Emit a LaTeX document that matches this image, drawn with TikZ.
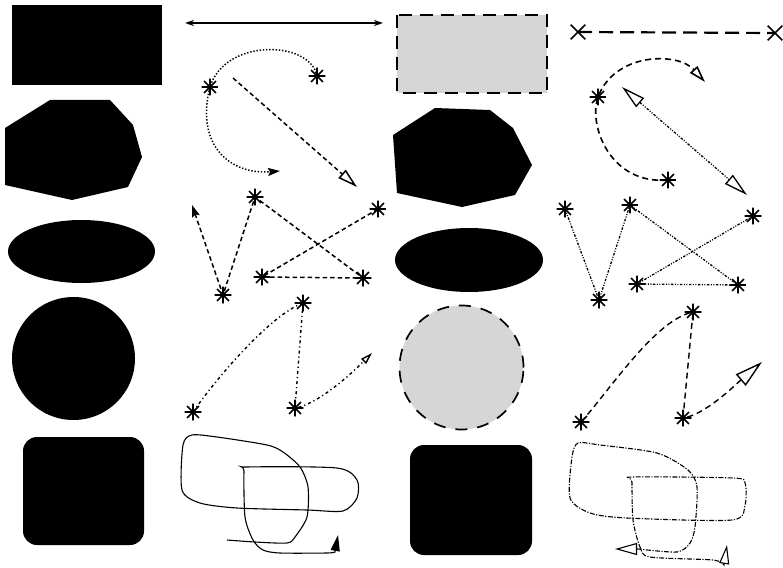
\documentclass[tikz,border=0pt]{standalone}
\usetikzlibrary{arrows.meta, shapes.misc}
\tikzset{
  % Polymarker: eight-armed asterisk with a heavy centre.
  mk-star/.style={
    circle, inner sep=0pt, minimum size=17pt,
    path picture={
      \draw[line width=1.6pt]
        (path picture bounding box.north) -- (path picture bounding box.south)
        (path picture bounding box.west) -- (path picture bounding box.east)
        (path picture bounding box.north west) -- (path picture bounding box.south east)
        (path picture bounding box.north east) -- (path picture bounding box.south west);
      \fill (path picture bounding box.center) circle (2.8pt);
    },
  },
  % Polymarker: diagonal cross.
  mk-cross/.style={
    cross out, draw, line width=1.6pt,
    minimum size=13pt, inner sep=0pt,
  },
  % Fill areas.
  area-solid/.style={fill=black},
  area-stipple/.style={
    fill=black!16, draw=black, line width=2pt,
    dash pattern=on 13pt off 8pt,
  },
  % Line types.
  ln-solid/.style={line width=1.1pt},
  ln-dot/.style={line width=1.5pt, dash pattern=on 1.4pt off 1.8pt},
  ln-dash/.style={line width=1.5pt, dash pattern=on 4.5pt off 3pt},
  ln-dashdot/.style={line width=1.4pt, dash pattern=on 3pt off 3pt on 1.2pt off 3pt},
  ln-dashdotdot/.style={line width=1.3pt,
    dash pattern=on 2.5pt off 1.5pt on 1pt off 1.5pt on 1pt off 1.5pt},
  ln-fine/.style={line width=1.1pt, dash pattern=on 5pt off 1.5pt on 1.2pt off 1.5pt},
  ln-meddash/.style={line width=1.6pt, dash pattern=on 6pt off 4pt},
  ln-longdash/.style={line width=2.2pt, dash pattern=on 14pt off 7pt},
  % Arrow heads.
  tip-solid/.style={-{Stealth[length=12pt, width=8pt, inset=2pt]}},
  tip-open/.style={-{Triangle[open, length=20pt, width=11pt]}},
  tip-open-s/.style={-{Triangle[open, length=12pt, width=7pt]}},
}

\begin{document}
\begin{tikzpicture}[x=1pt, y=-1pt]
  \useasboundingbox (0,0) rectangle (783,567);

  % Column 1: solid fill areas.
  \fill[area-solid] (12,5) rectangle (162,85);
  \fill[area-solid] (5,128) -- (50,100) -- (110,100) -- (133,125) -- (142,157)
    -- (128,187) -- (72,200) -- (5,185) -- cycle;
  \fill[area-solid] (81.5,251.5) ellipse [x radius=73.5pt, y radius=31.5pt];
  \fill[area-solid] (73.5,358.5) circle (61.5pt);
  \fill[area-solid, rounded corners=14pt] (23,437) rectangle (144,545);

  % Column 3: stippled and solid fill areas.
  \filldraw[area-stipple] (397,15) rectangle (547,93);
  \fill[area-solid] (393,135) -- (435,108) -- (490,110) -- (513,128) -- (532,165)
    -- (515,195) -- (462,207) -- (397,193) -- cycle;
  \fill[area-solid] (469,260) ellipse [x radius=74pt, y radius=32pt];
  \filldraw[area-stipple, line width=1.7pt, dash pattern=on 12pt off 10pt]
    (461.5,367.5) circle (62pt);
  \fill[area-solid, rounded corners=14pt] (410,445) rectangle (532,555);

  % Column 2, top: double arrow, dotted hook, dashed diagonal.
  \coordinate (dl) at (185,23);
  \coordinate (dr) at (383,23);
  \draw[line width=2pt, {Stealth[length=9pt, width=6pt]}-{Stealth[length=9pt, width=6pt]}]
    (dl) -- (dr);

  \node[mk-star] (a1) at (210,87) {};
  \node[mk-star] (a2) at (317,76) {};
  \coordinate (a3) at (280,171);
  \draw[ln-dot, tip-solid] (a2.center) .. controls (310,40) and (225,38) .. (a1.center)
    .. controls (195,145) and (230,175) .. (a3);

  \coordinate (b1) at (233,78);
  \coordinate (b2) at (357,187);
  \draw[ln-dash, tip-open] (b1) -- (b2);

  % Column 2, zigzag polyline.
  \node[mk-star] (h1) at (378,209) {};
  \node[mk-star] (h2) at (262,277) {};
  \node[mk-star] (h3) at (363,278) {};
  \node[mk-star] (h4) at (255,197) {};
  \node[mk-star] (h5) at (223,295) {};
  \coordinate (h6) at (192,205);
  \draw[ln-dash, tip-solid] (h1.center) -- (h2.center) -- (h3.center) -- (h4.center)
    -- (h5.center) -- (h6);

  % Column 2, dash-dot curve.
  \node[mk-star] (g1) at (193,412) {};
  \node[mk-star] (g2) at (303,303) {};
  \node[mk-star] (g3) at (295,408) {};
  \coordinate (g4) at (372,353);
  \draw[ln-dashdot, tip-open-s] (g1.center) .. controls (215,380) and (270,315) .. (g2.center)
    -- (g3.center) .. controls (315,405) and (345,380) .. (g4);

  % Column 2, freehand outline.
  \coordinate (p1) at (338,535);
  \draw[ln-solid, -{Triangle[length=16pt, width=9pt]}] plot[smooth, tension=0.45] coordinates {
    (227,540) (255,542) (287,543) (295,537) (307,517) (308,487) (300,467) (283,452)
    (267,445) (217,437) (192,435) (183,445) (182,490) (200,503) (237,508) (307,510)
    (343,511) (357,498) (357,480) (337,468) (247,467) (244,471) (245,517) (253,540)
    (263,550) (280,553) (327,553) (335,552)} -- (p1);

  % Column 4, top: cross markers, dashed curve, double arrow.
  \node[mk-cross] (x1) at (578,32) {};
  \node[mk-cross] (x2) at (775,33) {};
  \draw[ln-longdash] (x1.center) -- (x2.center);

  \node[mk-star] (c1) at (668,180) {};
  \node[mk-star] (c2) at (598,97) {};
  \coordinate (c3) at (705,82);
  \draw[ln-meddash, -{Triangle[open, length=17pt, width=10pt]}]
    (c1.center) .. controls (610,185) and (588,125) .. (c2.center)
    .. controls (615,52) and (678,52) .. (c3);

  \coordinate (d1) at (622,87);
  \coordinate (d2) at (747,195);
  \draw[ln-dashdotdot, {Triangle[open, length=24pt, width=12pt]}-{Triangle[open, length=24pt, width=12pt]}]
    (d1) -- (d2);

  % Column 4, zigzag polyline.
  \node[mk-star] (e1) at (565,209) {};
  \node[mk-star] (e2) at (599,300) {};
  \node[mk-star] (e3) at (630,205) {};
  \node[mk-star] (e4) at (738,285) {};
  \node[mk-star] (e5) at (637,284) {};
  \node[mk-star] (e6) at (753,216) {};
  \draw[ln-dashdotdot] (e1.center) -- (e2.center) -- (e3.center) -- (e4.center)
    -- (e5.center) -- (e6.center);

  % Column 4, dashed curve.
  \node[mk-star] (f1) at (581,422) {};
  \node[mk-star] (f2) at (693,312) {};
  \node[mk-star] (f3) at (683,418) {};
  \coordinate (f4) at (762,362);
  \draw[ln-meddash, line width=1.4pt, -{Triangle[open, length=28pt, width=15pt]}]
    (f1.center) .. controls (610,390) and (655,320) .. (f2.center)
    -- (f3.center) .. controls (705,415) and (735,385) .. (f4);

  % Column 4, freehand outline.
  \coordinate (q1) at (615,549);
  \coordinate (q2) at (727,545);
  \draw[ln-fine, {Triangle[open, length=22pt, width=12pt]}-{Triangle[open, length=19pt, width=10pt]}]
    (q1) -- plot[smooth, tension=0.45] coordinates {
    (638,549) (677,552) (690,543) (695,527) (697,487) (688,470) (657,453) (600,445)
    (578,443) (572,457) (570,498) (590,513) (627,518) (732,520) (745,505) (745,483)
    (733,478) (633,477) (632,482) (633,520) (640,547) (650,557) (713,560) (724,565)} -- (q2);
\end{tikzpicture}
\end{document}
